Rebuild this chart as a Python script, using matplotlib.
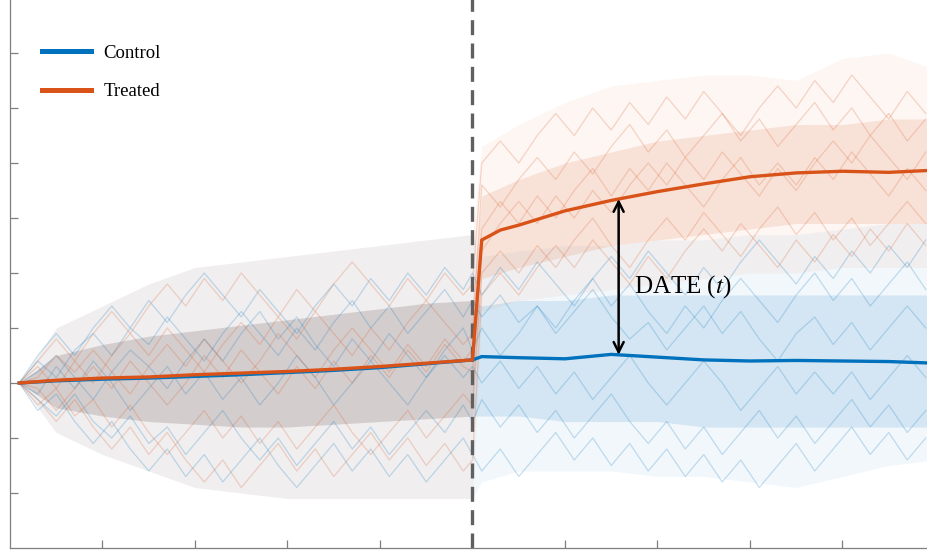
import matplotlib
matplotlib.use("Agg")
import matplotlib.pyplot as plt
from matplotlib.lines import Line2D
import numpy as np

plt.rcParams['font.family'] = ['Liberation Serif', 'DejaVu Serif']
plt.rcParams['mathtext.fontset'] = 'stix'

BLUE = '#0072BD'
ORANGE = '#D95319'

# ---- data ----
treat_start = 50

# mean paths
mean_pre_x = [1, 5, 10, 15, 20, 25, 30, 35, 40, 45, 50]
ctrl_mean_pre = [0, 0.04, 0.07, 0.09, 0.12, 0.15, 0.19, 0.23, 0.28, 0.35, 0.42]
trt_mean_pre = [0, 0.05, 0.09, 0.11, 0.15, 0.18, 0.21, 0.25, 0.30, 0.36, 0.42]

ctrl_post_x = [51, 55, 60, 65, 70, 75, 80, 85, 90, 95, 100]
ctrl_mean_post = [0.48, 0.46, 0.44, 0.52, 0.47, 0.42, 0.40, 0.41, 0.40, 0.39, 0.36]

trt_post_x = [51, 53, 55, 60, 65, 70, 75, 80, 85, 90, 95, 100]
trt_mean_post = [2.6, 2.78, 2.87, 3.13, 3.32, 3.48, 3.62, 3.75, 3.82, 3.85, 3.83, 3.87]

# spread of the individual paths (outer = extremes, core = dense part)
band_pre_x = [1, 5, 10, 15, 20, 25, 30, 35, 40, 45, 50]
pre_outer_hi = [0, 1.0, 1.4, 1.8, 2.1, 2.2, 2.3, 2.4, 2.5, 2.6, 2.7]
pre_outer_lo = [0, -0.9, -1.3, -1.6, -1.9, -2.0, -2.1, -2.1, -2.1, -2.1, -2.1]
pre_core_hi = [0, 0.5, 0.7, 0.85, 0.95, 1.05, 1.15, 1.25, 1.35, 1.45, 1.5]
pre_core_lo = [0, -0.45, -0.6, -0.7, -0.75, -0.8, -0.8, -0.75, -0.7, -0.65, -0.6]

band_post_x = [51, 55, 60, 65, 70, 75, 80, 85, 90, 95, 100]
ctrl_outer_hi = [2.3, 2.4, 2.5, 2.5, 2.6, 2.6, 2.7, 2.7, 2.8, 2.9, 2.9]
ctrl_outer_lo = [-1.8, -1.6, -1.6, -1.6, -1.7, -1.7, -1.8, -1.9, -1.7, -1.5, -1.4]
ctrl_core_hi = [1.4, 1.5, 1.5, 1.6, 1.6, 1.6, 1.6, 1.6, 1.6, 1.6, 1.6]
ctrl_core_lo = [-0.6, -0.6, -0.7, -0.7, -0.7, -0.8, -0.8, -0.8, -0.8, -0.8, -0.8]
trt_outer_hi = [4.3, 4.7, 5.1, 5.4, 5.5, 5.6, 5.6, 5.5, 5.9, 6.0, 5.7]
trt_outer_lo = [1.3, 1.5, 1.6, 1.7, 1.8, 1.9, 2.0, 2.0, 2.1, 2.1, 2.1]
trt_core_hi = [3.4, 3.7, 4.0, 4.2, 4.4, 4.5, 4.6, 4.7, 4.7, 4.8, 4.8]
trt_core_lo = [1.9, 2.1, 2.3, 2.5, 2.6, 2.7, 2.8, 2.9, 2.9, 2.9, 2.9]

# a few individual paths (x = 1,3,...,49,50 then 51,53,...,99)
paths_x = list(range(1, 50, 2)) + [50] + list(range(51, 100, 2))
ctrl_paths = [
    [0, 0.4, 0.1, 0.6, 0.9, 0.5, 1.0, 0.7, 1.2, 0.8, 0.4, 0.9, 1.3, 0.9, 0.5, 1.0, 0.6, 1.1, 1.5, 1.0, 1.4, 0.9, 1.3, 1.7, 1.2, 1.5,
     1.2, 1.6, 1.1, 1.4, 0.9, 1.3, 1.7, 1.2, 0.8, 1.1, 0.6, 1.0, 1.4, 0.9, 1.3, 0.8, 0.4, 0.9, 1.2, 0.7, 1.1, 0.6, 1.0, 1.4, 1.0],
    [0, -0.3, -0.6, -0.2, -0.7, -1.0, -0.6, -1.1, -0.8, -1.3, -0.9, -0.5, -1.0, -1.4, -1.0, -1.5, -1.1, -0.7, -1.2, -0.8, -1.3, -0.9, -0.5, -0.9, -0.4, -0.7,
     -0.3, -0.8, -0.4, -0.9, -0.5, -1.0, -0.6, -0.2, -0.7, -1.1, -0.7, -1.2, -0.8, -1.3, -0.9, -0.5, -1.0, -0.6, -1.1, -0.7, -0.3, -0.8, -0.4, -0.9, -0.5],
    [0, 0.2, 0.5, 0.1, -0.3, 0.2, 0.6, 0.3, -0.1, 0.4, 0.8, 0.4, 0.9, 1.3, 0.8, 1.2, 0.7, 0.3, 0.8, 0.4, 0.9, 0.5, 0.1, 0.6, 1.0, 0.6,
     1.0, 0.5, 0.9, 1.4, 1.0, 1.5, 1.9, 1.4, 1.8, 1.3, 0.9, 1.4, 1.0, 1.5, 1.9, 1.5, 1.1, 1.6, 2.0, 1.5, 1.9, 1.4, 1.8, 2.2, 1.7],
    [0, -0.2, 0.3, -0.1, 0.4, 0.0, -0.5, -0.1, 0.3, -0.2, 0.2, -0.3, 0.1, -0.4, 0.0, 0.5, 0.1, -0.4, 0.0, 0.4, 0.0, -0.4, 0.1, 0.5, 0.1, 0.3,
     0.0, 0.4, -0.1, 0.3, -0.2, 0.2, -0.3, 0.1, 0.5, 0.0, -0.4, 0.0, 0.4, 0.0, -0.5, -0.1, 0.3, -0.2, 0.2, -0.2, 0.2, -0.3, 0.1, 0.5, 0.1],
    [0, 0.5, 0.9, 0.5, 1.0, 1.4, 1.0, 1.5, 1.1, 1.6, 2.0, 1.6, 1.2, 1.7, 1.3, 0.9, 1.4, 1.8, 1.4, 1.9, 1.5, 2.0, 1.6, 2.1, 1.7, 2.0,
     1.6, 2.1, 1.7, 2.2, 1.8, 1.4, 1.9, 2.3, 1.9, 2.4, 2.0, 1.6, 2.1, 1.7, 2.2, 2.6, 2.2, 1.8, 2.3, 1.9, 2.4, 2.0, 2.5, 2.1, 2.6],
    [0, -0.5, -0.2, -0.7, -1.1, -0.7, -1.2, -1.6, -1.2, -1.7, -1.3, -1.8, -1.4, -1.0, -1.5, -1.9, -1.5, -1.1, -1.6, -1.2, -1.7, -1.3, -1.8, -1.4, -1.0, -1.3,
     -1.6, -1.2, -1.7, -1.3, -0.9, -1.4, -1.0, -1.5, -1.1, -1.6, -1.2, -1.7, -1.3, -1.8, -1.4, -1.9, -1.5, -1.1, -1.6, -1.2, -0.8, -1.3, -0.9, -1.4, -1.0],
]
trt_paths = [
    [0, 0.3, -0.1, 0.4, 0.0, 0.5, 0.9, 0.5, 1.0, 0.6, 0.2, 0.7, 1.1, 0.7, 1.2, 0.8, 1.3, 0.9, 0.5, 1.0, 0.6, 1.1, 1.5, 1.1, 0.7, 0.9,
     3.6, 3.2, 3.7, 4.1, 3.7, 4.2, 3.8, 4.3, 4.7, 4.2, 4.6, 4.1, 4.5, 4.9, 4.4, 4.8, 4.3, 4.7, 5.1, 4.6, 5.0, 4.5, 4.9, 4.4, 4.8],
    [0, -0.4, -0.1, -0.6, -0.3, -0.8, -0.4, -0.9, -1.3, -0.9, -0.5, -1.0, -0.6, -1.1, -0.7, -1.2, -0.8, -0.4, -0.9, -1.3, -0.9, -0.5, -1.0, -0.6, -0.2, -0.4,
     2.0, 2.4, 2.0, 2.5, 2.1, 2.6, 3.0, 2.5, 2.1, 2.6, 3.0, 2.6, 3.1, 2.7, 2.3, 2.8, 3.2, 2.7, 3.1, 2.6, 3.0, 2.5, 2.9, 3.3, 2.9],
    [0, 0.1, 0.5, 0.2, 0.6, 0.2, -0.2, 0.3, 0.7, 0.3, 0.8, 0.4, 0.0, 0.4, 0.9, 0.5, 0.1, 0.6, 1.0, 0.6, 0.2, 0.7, 0.3, 0.8, 0.4, 0.6,
     2.8, 3.3, 2.9, 3.4, 3.0, 3.5, 3.9, 3.4, 3.9, 3.5, 4.0, 3.6, 3.2, 3.7, 4.1, 3.6, 4.0, 3.6, 4.1, 3.7, 4.2, 3.8, 3.4, 3.9, 3.5],
    [0, -0.1, -0.5, -0.1, 0.3, -0.1, 0.4, 0.0, -0.4, 0.0, 0.5, 0.1, 0.6, 0.2, -0.2, 0.3, -0.1, 0.4, 0.0, 0.5, 0.1, 0.6, 0.2, 0.7, 0.3, 0.2,
     2.4, 2.9, 3.3, 2.9, 3.4, 3.0, 3.5, 3.1, 3.6, 4.0, 3.6, 4.1, 3.7, 4.2, 3.8, 3.4, 3.9, 3.5, 4.0, 4.4, 4.0, 4.5, 4.1, 3.7, 4.2],
    [0, 0.4, 0.8, 0.4, 0.9, 1.3, 0.9, 1.4, 1.8, 1.4, 1.9, 1.5, 2.0, 1.6, 1.2, 1.7, 1.3, 1.8, 2.2, 1.8, 1.4, 1.9, 1.5, 2.0, 1.6, 1.8,
     4.0, 4.4, 4.0, 4.5, 4.9, 4.5, 5.0, 4.6, 5.1, 4.7, 5.2, 4.8, 5.3, 4.9, 4.5, 5.0, 5.4, 5.0, 5.5, 5.1, 5.6, 5.2, 4.8, 5.3, 4.9],
    [0, -0.3, -0.7, -0.3, -0.8, -1.2, -0.8, -1.3, -0.9, -1.4, -1.8, -1.4, -1.9, -1.5, -1.1, -1.6, -1.2, -1.7, -1.3, -0.9, -1.4, -1.0, -1.5, -1.1, -1.6, -1.4,
     1.6, 2.0, 1.6, 2.1, 2.5, 2.1, 2.6, 2.2, 1.8, 2.3, 1.9, 2.4, 2.8, 2.4, 2.9, 2.5, 2.1, 2.6, 2.2, 2.7, 2.3, 2.8, 2.4, 2.9, 2.5],
]

arrow_x = 65.8
label_text = 'DATE ($t$)'

# ---- figure ----
fig = plt.figure(figsize=(9.28, 5.52), dpi=100)
ax = fig.add_axes([10 / 928, 4 / 552, 925 / 928, 550 / 552])

bx = band_pre_x + band_post_x
for color, ohi, olo, chi, clo in [
    (BLUE, ctrl_outer_hi, ctrl_outer_lo, ctrl_core_hi, ctrl_core_lo),
    (ORANGE, trt_outer_hi, trt_outer_lo, trt_core_hi, trt_core_lo),
]:
    ax.fill_between(bx, pre_outer_lo + olo, pre_outer_hi + ohi, color=color, alpha=0.05, lw=0, zorder=1)
    ax.fill_between(bx, pre_core_lo + clo, pre_core_hi + chi, color=color, alpha=0.12, lw=0, zorder=1)

for p in ctrl_paths:
    ax.plot(paths_x, p, color=BLUE, alpha=0.22, lw=0.9, zorder=1.5)
for p in trt_paths:
    ax.plot(paths_x, p, color=ORANGE, alpha=0.22, lw=0.9, zorder=1.5)

ax.axvline(treat_start, color='#606060', lw=2.4, ls=(0, (4.5, 2.5)), zorder=2)

cx = mean_pre_x + ctrl_post_x
cy = ctrl_mean_pre + ctrl_mean_post
tx = mean_pre_x + trt_post_x
ty = trt_mean_pre + trt_mean_post
ax.plot(cx, cy, color=BLUE, lw=2.4, zorder=3)
ax.plot(tx, ty, color=ORANGE, lw=2.4, zorder=3.1)

y_lo = np.interp(arrow_x, cx, cy)
y_hi = np.interp(arrow_x, tx, ty)
ax.annotate('', xy=(arrow_x, y_hi), xytext=(arrow_x, y_lo),
            arrowprops=dict(arrowstyle='<->', color='black', lw=1.8, mutation_scale=18,
                            shrinkA=0, shrinkB=0), zorder=4)
ax.text(arrow_x + 1.7, (y_lo + y_hi) / 2 - 0.17, label_text, fontsize=18,
        va='center', ha='left', zorder=4)

handles = [Line2D([], [], color=BLUE, lw=3.6), Line2D([], [], color=ORANGE, lw=3.6)]
ax.legend(handles, ['Control', 'Treated'], loc='upper left', bbox_to_anchor=(0.027, 0.929),
          frameon=False, fontsize=13.5, handlelength=2.6, handletextpad=0.65, labelspacing=1.15,
          borderaxespad=0)

ax.set_xlim(0, 100)
ax.set_ylim(-3, 7)
ax.set_xticks(range(10, 100, 10))
ax.set_yticks(range(-2, 7))
ax.set_xticklabels([])
ax.set_yticklabels([])
ax.tick_params(direction='in', length=6, width=0.9, color='#7f7f7f')
for s in ['top', 'right']:
    ax.spines[s].set_visible(False)
for s in ['left', 'bottom']:
    ax.spines[s].set_color('#7f7f7f')
    ax.spines[s].set_linewidth(0.9)

fig.savefig('out.png', dpi=100)
